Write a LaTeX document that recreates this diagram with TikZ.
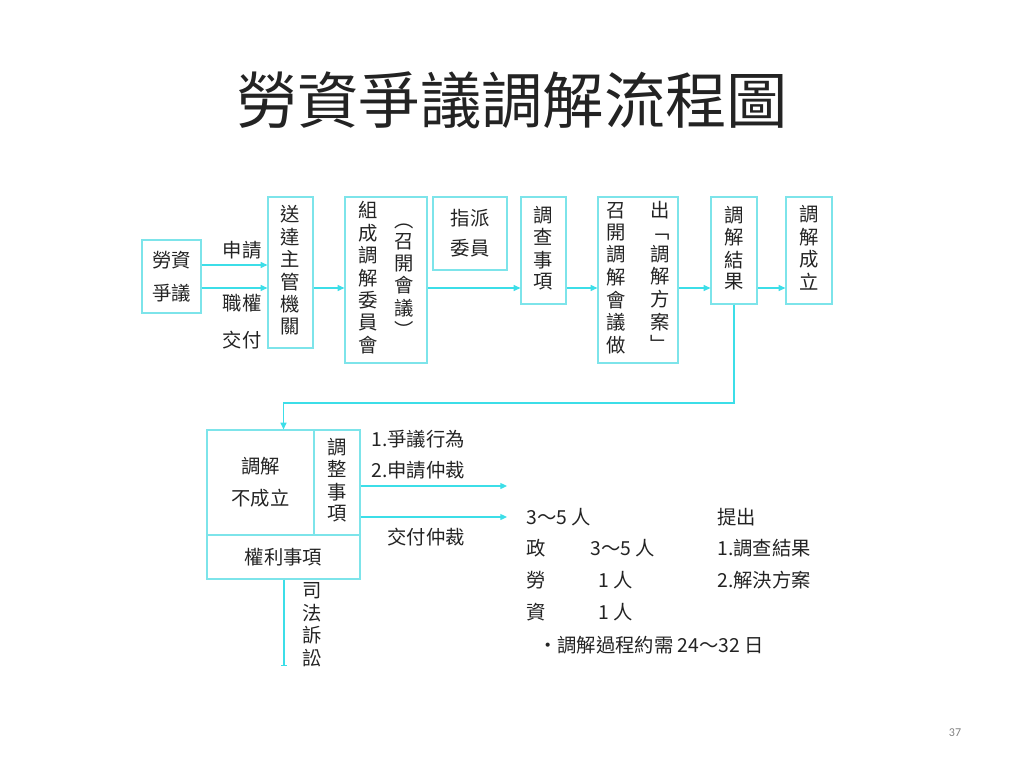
\documentclass[tikz,border=0pt]{standalone}
\usepackage{fontspec}
\setmainfont{Noto Sans CJK TC}
\newfontfamily\pagefont{Carlito}
\usetikzlibrary{arrows.meta}
\definecolor{flowcyan}{RGB}{60,222,232}
\definecolor{boxcyan}{RGB}{125,228,234}
\definecolor{inkgray}{RGB}{35,35,35}
\newcommand{\vcol}[1]{\begin{tabular}[t]{@{}c@{}}#1\end{tabular}}

\begin{document}
\begin{tikzpicture}[x=0.75pt, y=-0.75pt]
        \tikzstyle{every node}=[inner sep=0pt, text=inkgray, font=\fontsize{14.5}{15.75}\selectfont]
        \tikzstyle{box}=[draw=boxcyan, line width=0.9pt, rectangle]
        \tikzstyle{arr}=[color=flowcyan, line width=0.9pt, -{Triangle[length=5pt, width=4.5pt]}]
        \tikzstyle{link}=[color=flowcyan, line width=1pt]
        \useasboundingbox (0,0) rectangle (1024,768);
        \node (title) at (512,100) {\fontsize{46}{50}\selectfont 勞資爭議調解流程圖};
        % top row of boxes
        \node [box, minimum width=44.25pt, minimum height=54.75pt, align=center, font=\fontsize{14.5}{24.75}\selectfont] (dispute) at (171.5,276.5) {勞資\\爭議};
        \node [box, minimum width=33.75pt, minimum height=113.25pt] (send) at (290.5,272.5) {\vcol{送\\達\\主\\管\\機\\關}};
        \node [box, minimum width=61.5pt, minimum height=124.5pt] (form) at (386,280) {\vcol{組\\成\\調\\解\\委\\員\\會}\hspace{12.75pt}\raisebox{-7pt}{\vcol{︵\\召\\開\\會\\議\\︶}}};
        \node [box, minimum width=55.5pt, minimum height=54.75pt, align=center, font=\fontsize{14.5}{22.5}\selectfont] (assign) at (470,233.5) {指派\\委員};
        \node [box, minimum width=33.75pt, minimum height=80.25pt] (invest) at (543.5,250.5) {\vcol{調\\查\\事\\項}};
        \node [box, minimum width=60pt, minimum height=124.5pt] (meet) at (638,280) {\vcol{召\\開\\調\\解\\會\\議\\做}\hspace{18pt}\vcol{出\\﹁\\調\\解\\方\\案\\﹂}};
        \node [box, minimum width=34.5pt, minimum height=80.25pt] (result) at (734,250.5) {\vcol{調\\解\\結\\果}};
        \node [box, minimum width=34.5pt, minimum height=80.25pt] (success) at (809,250.5) {\vcol{調\\解\\成\\立}};
        % bottom block
        \node [box, minimum width=80.25pt, minimum height=78.75pt, align=center, font=\fontsize{14.5}{24}\selectfont] (fail) at (260.5,482.5) {調解\\不成立};
        \node [box, minimum width=34.5pt, minimum height=78.75pt] (adj) at (337,482.5) {\vcol{調\\整\\事\\項}};
        \node [box, minimum width=114.75pt, minimum height=33pt] (rights) at (283.5,557) {權利事項};
        % labels
        \node (lblask) at (242,250) {申請};
        \node [align=center, font=\fontsize{14.5}{27.75}\selectfont] (lblhand) at (242,321.5) {職權\\交付};
        \node [anchor=west] (lblact) at (371,439) {1.爭議行為};
        \node [anchor=west] (lblarb) at (371,470) {2.申請仲裁};
        \node (lblgive) at (426,537) {交付仲裁};
        \node (lblcourt) at (312,627) {\vcol{司\\法\\訴\\訟}};
        % committee notes
        \node [anchor=west] (nsize) at (526,517) {3～5 人};
        \node [anchor=west] (ngov) at (526,548) {政};
        \node [anchor=west] (ngovn) at (590,548) {3～5 人};
        \node [anchor=west] (nlab) at (526,580) {勞};
        \node [anchor=west] (nlabn) at (598,580) {1 人};
        \node [anchor=west] (ncap) at (526,612) {資};
        \node [anchor=west] (ncapn) at (598,612) {1 人};
        \node [anchor=west] (ntime) at (538,645) {・調解過程約需 24～32 日};
        \node [anchor=west] (nsub) at (717,517) {提出};
        \node [anchor=west] (nsub1) at (717,548) {1.調查結果};
        \node [anchor=west] (nsub2) at (717,580) {2.解決方案};
        \node [text=gray, font=\pagefont\fontsize{9}{10}\selectfont] (page) at (955,733) {37};
        % connectors
        \coordinate (ask) at (0,265);
        \coordinate (row) at (0,288);
        \coordinate (turn) at (0,403);
        \coordinate (out1) at (507,486);
        \coordinate (out2) at (507,517);
        \coordinate (court) at (284,666);
        \draw [arr] (dispute.east |- ask) -- (send.west |- ask);
        \draw [arr] (dispute.east |- row) -- (send.west |- row);
        \draw [arr] (send.east |- row) -- (form.west |- row);
        \draw [arr] (form.east |- row) -- (invest.west |- row);
        \draw [arr] (invest.east |- row) -- (meet.west |- row);
        \draw [arr] (meet.east |- row) -- (result.west |- row);
        \draw [arr] (result.east |- row) -- (success.west |- row);
        \draw [arr] (result.south) -- (result.south |- turn) -| (fail.north -| rights.north);
        \draw [arr] (adj.east |- out1) -- (out1);
        \draw [arr] (adj.east |- out2) -- (out2);
        \draw [link, -{Bar[width=4pt]}] (rights.south -| court) -- (court);
    \end{tikzpicture}
\end{document}
